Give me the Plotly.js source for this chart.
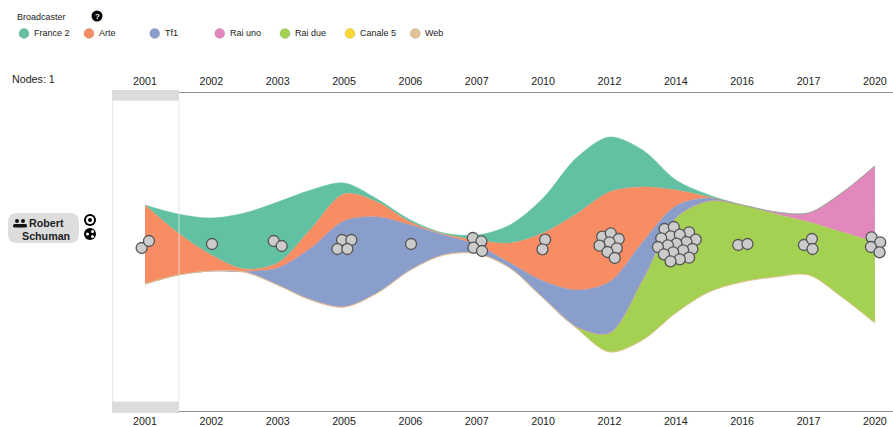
<!DOCTYPE html>
<html>
<head>
<meta charset="utf-8">
<script src="https://cdn.plot.ly/plotly-3.0.1.min.js"></script>
<style>html,body{margin:0;padding:0;background:#fff}#c{width:893px;height:427px}</style>
</head>
<body>
<div id="c"></div>
<script>
var years = ['2001','2002','2003','2005','2006','2007','2010','2012','2014','2016','2017','2020'];
var columns = [0,1,2,3,4,5,6,7,8,9,10,11];
var streamX = [0,0.5,1,1.5,2,2.5,3,3.5,4,4.5,5,5.5,6,6.5,7,7.5,8,8.5,9,9.5,10,10.5,11];
var broadcasters = ['Canale 5','Rai due','Rai uno','Tf1','Arte','France 2','Web'];
var colors = ['#fdd835','#a5d152','#e288bd','#8a9ecb','#f88d63','#63c1a3','#e3c395'];
var legendOrder = ['France 2','Arte','Tf1','Rai uno','Rai due','Canale 5','Web'];

var streamBase = [127,136,140,139,126,111,104,118,141,156,157.5,143,113,83,59,71,98,119,129,134,136,114,88];
var web      = [0,0,0,0,0,0,0,0,0,0,0,0,0,0,0,0,0,0,0,0,0,0,0];
var canale5  = [0,0,0,0,0,0,0,0,0,0,0,0,0,0,0,0,0,0,0,0,0,0,0];
var raiDue   = [0,0,0,0,0,0,0,0,0,0,0,0,0,1.3,19,60,95,91,77,63,53,65,81];
var raiUno   = [0,0,0,0,0,0,0,0,0,0,0,0,0,0,0,0,0,0,0,2,9,39,76];
var tf1      = [0,0,0,0.5,17,52,86,76,45,20,8.5,5,17,36.7,51,38,12,3,0,0,0,0,0];
var arte     = [79,42,16,2.5,5,19,27,15,3,1,5,20,48,76,90,55,16,1,0,0,0,0,0];
var france2  = [0,19,37,56,61,39,11,3,2,1,5,18,35,56,55,37,10,2,0,0,0,0,0];
var layers = [canale5,raiDue,raiUno,tf1,arte,france2];

var nodeX = [-0.05,0.06,1.01,1.94,2.06,2.97,3.11,2.90,3.05,4.01,4.94,5.07,4.95,5.08,6.03,5.99,
  6.89,7.02,7.14,7.00,6.85,7.11,6.97,7.08,
  7.83,7.97,8.20,7.92,8.06,8.30,7.78,8.16,8.01,7.88,7.73,8.25,8.11,7.96,7.82,8.20,8.06,7.92,
  8.94,9.08,9.93,10.05,10.06,10.95,11.08,10.94,11.07];
var nodeY = [163,170,167,170,165,171,171,162,162,167,173,169.7,163.3,160,171.3,161.7,
  174.3,177.7,172,168.7,165.3,162.7,159,153,
  182,184,178.7,174.7,176.3,171.3,172.7,169,167.3,165.7,164,162,160.7,158.7,156.7,153.3,151.7,149.7,
  166,167,166,172,162,173.7,168.7,164,158.7];

var PL=112, PT=93, PW=781, PH=318;
function px(x){return (x-PL)/PW;}
function py(y){return (PT+PH-y)/PH;}
function hexA(h,a){var n=parseInt(h.slice(1),16);return 'rgba('+(n>>16)+','+((n>>8)&255)+','+(n&255)+','+a+')';}

var curve={shape:'spline',smoothing:0.9};
var traces=[{x:streamX,y:streamBase,type:'scatter',mode:'lines',line:Object.assign({width:0},curve),showlegend:false,hoverinfo:'skip'}];
var running=streamBase.slice();
layers.forEach(function(v,k){
  running=running.map(function(b,i){return b+v[i];});
  traces.push({x:streamX,y:running.slice(),name:broadcasters[k],type:'scatter',mode:'lines',fill:'tonexty',
    fillcolor:colors[k],line:Object.assign({width:k===0?0:1,color:hexA(colors[k],0.5)},curve),showlegend:false,hoverinfo:'name'});
});
/* Web has no height of its own: it shows only as the tan edge along the foot of the stream */
traces.push({x:streamX,y:streamBase.map(function(b,i){return b+web[i];}),name:'Web',type:'scatter',mode:'lines',
  line:Object.assign({width:1,color:colors[6]},curve),showlegend:false,hoverinfo:'name'});
traces.push({x:nodeX,y:nodeY,type:'scatter',mode:'markers',name:'Nodes',showlegend:false,
  marker:{size:11,color:'#cccccc',line:{color:'#555555',width:1.3}},hoverinfo:'skip'});
traces.push({x:columns,y:columns.map(function(){return null;}),xaxis:'x2',type:'scatter',mode:'lines',showlegend:false,hoverinfo:'skip'});

function rect(x0,y0,x1,y1,fill,line){return {type:'rect',xref:'paper',yref:'paper',x0:px(x0),x1:px(x1),y0:py(y0),y1:py(y1),fillcolor:fill,line:line||{width:0},layer:'above'};}
function circ(x,y,r,fill,line){return {type:'circle',xref:'paper',yref:'paper',x0:px(x-r),x1:px(x+r),y0:py(y-r),y1:py(y+r),fillcolor:fill,line:line||{width:0},layer:'above'};}
function label(x,y,t,size,anchor,extra){var a={xref:'paper',yref:'paper',x:px(x),y:py(y),text:t,showarrow:false,xanchor:anchor||'left',yanchor:'middle',borderpad:0,
  font:{family:'"Liberation Sans",Arial,sans-serif',size:size,color:'#222'}};for(var k in extra){a[k]=extra[k];}return a;}
function pill(x0,y0,x1,y1,r,fill){
  var c=function(x,y){return px(x)+','+py(y);};
  return {type:'path',xref:'paper',yref:'paper',layer:'above',fillcolor:fill,line:{width:0},
    path:'M'+c(x0+r,y0)+' L'+c(x1-r,y0)+' Q'+c(x1,y0)+' '+c(x1,y0+r)+' L'+c(x1,y1-r)+' Q'+c(x1,y1)+' '+c(x1-r,y1)+' L'+c(x0+r,y1)+' Q'+c(x0,y1)+' '+c(x0,y1-r)+' L'+c(x0,y0+r)+' Q'+c(x0,y0)+' '+c(x0+r,y0)+' Z'};
}

var shapes=[
  rect(112.5,100,179,402,'rgba(0,0,0,0)',{color:'rgba(226,226,226,0.85)',width:1}),
  rect(112,90,179,100.5,'#dcdcdc'),
  rect(112,402,179,413,'#dcdcdc'),
  pill(8,213,79,243,9,'#dddddd'),
  circ(97,16,5.5,'#000'),
  circ(90,220,6,'#000'),circ(90,220,4,'#fff'),circ(90,220,2,'#000'),
  circ(90,234,6,'#000'),circ(87.5,234,1.5,'#fff'),circ(92.5,231.5,1.5,'#fff'),circ(92.5,236.5,1.5,'#fff'),
  circ(17,221,2,'#111'),circ(23,221,2,'#111'),
  pill(13,224,21,227.5,1.5,'#111'),pill(19,224,27,227.5,1.5,'#111')
];
var annos=[
  label(16,17,'Broadcaster',9),
  label(97,16.5,'<b>?</b>',8,'center',{font:{family:'"Liberation Sans",Arial,sans-serif',size:8,color:'#fff'}}),
  label(11,79.5,'Nodes: 1',10.7),
  label(28,223,'<b>Robert</b>',10.7),
  label(46,235.5,'<b>Schuman</b>',10.7,'center')
];
var legendX=[24,89,154.7,219.7,285,350,415.3];
legendOrder.forEach(function(n,i){
  var col=colors[broadcasters.indexOf(n)];
  shapes.push(circ(legendX[i],33.5,5,col,{color:'rgba(90,90,90,0.25)',width:0.7}));
  annos.push(label(legendX[i]+8.8,33.5,n,9));
});

var axisBase={tickmode:'array',tickvals:columns,ticktext:years,range:[-0.497,11.273],showgrid:false,zeroline:false,
  showline:true,linecolor:'#8f8f8f',linewidth:1.3,ticks:'',
  tickfont:{family:'"Liberation Sans",Arial,sans-serif',size:10.7,color:'#222'},fixedrange:true};
var xTop=Object.assign({},axisBase,{side:'top',anchor:'y',ticks:'outside',ticklen:2,tickcolor:'rgba(0,0,0,0)'});
var xBot=Object.assign({},axisBase,{side:'bottom',anchor:'y',overlaying:'x',ticks:''});

Plotly.newPlot('c',traces,{
  width:893,height:427,margin:{l:PL,r:0,t:PT,b:16,pad:0},
  paper_bgcolor:'#fff',plot_bgcolor:'rgba(0,0,0,0)',showlegend:false,
  xaxis:xTop,xaxis2:xBot,
  yaxis:{visible:false,range:[0,PH],fixedrange:true},
  shapes:shapes,annotations:annos
},{displayModeBar:false,staticPlot:true});
</script>
</body>
</html>
